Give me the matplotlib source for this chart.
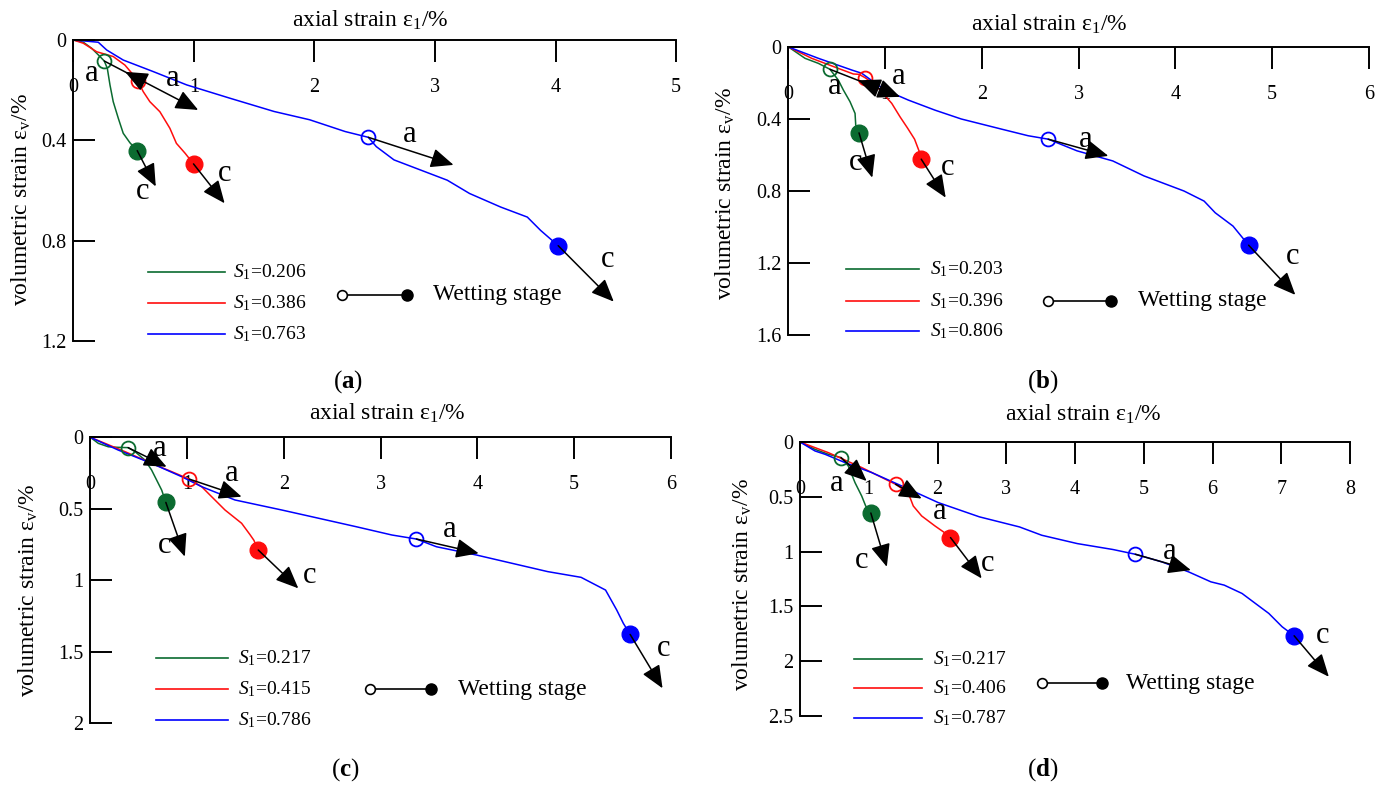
import matplotlib
matplotlib.use("Agg")
import matplotlib.pyplot as plt

plt.rcParams["font.family"] = ["Liberation Serif", "DejaVu Serif"]
plt.rcParams["mathtext.fontset"] = "custom"
plt.rcParams["mathtext.rm"] = "Liberation Serif"
plt.rcParams["mathtext.it"] = "Liberation Serif:italic"
plt.rcParams["mathtext.bf"] = "Liberation Serif:bold"

GREEN = "#0b6b30"
RED = "#ff0d0d"
BLUE = "#0000ff"
COLORS = [GREEN, RED, BLUE]

# ---------------- panel (a) ----------------
A_GREEN_X = [0, 0.083, 0.152, 0.221, 0.257, 0.282, 0.304, 0.331, 0.373, 0.414, 0.47, 0.53]
A_GREEN_Y = [0, 0.009, 0.033, 0.066, 0.084, 0.113, 0.179, 0.246, 0.312, 0.372, 0.41, 0.441]
A_RED_X = [0, 0.083, 0.194, 0.331, 0.428, 0.497, 0.534, 0.58, 0.635, 0.718, 0.801, 0.855, 0.928, 0.997]
A_RED_Y = [0, 0.013, 0.047, 0.066, 0.1, 0.139, 0.162, 0.206, 0.246, 0.286, 0.352, 0.412, 0.452, 0.494]
A_BLUE_X = [0, 0.207, 0.277, 0.414, 0.663, 0.94, 1.298, 1.665, 1.96, 2.255, 2.447, 2.513, 2.66,
            3.102, 3.287, 3.545, 3.766, 3.876, 4.022]
A_BLUE_Y = [0, 0.009, 0.04, 0.08, 0.126, 0.179, 0.232, 0.285, 0.318, 0.365, 0.388, 0.425, 0.478,
            0.559, 0.612, 0.666, 0.706, 0.759, 0.82]
A_S1 = ["0.206", "0.386", "0.763"]
A_WET_START_X = [0.257, 0.534, 2.447]
A_WET_START_Y = [0.084, 0.162, 0.388]
A_WET_END_X = [0.53, 0.997, 4.022]
A_WET_END_Y = [0.441, 0.494, 0.82]
A_XTICKS = [0, 1, 2, 3, 4, 5]
A_YTICKS = [0, 0.4, 0.8, 1.2]
A_YTICKLABELS = ["0", "0.4", "0.8", "1.2"]

# ---------------- panel (b) ----------------
B_GREEN_X = [0, 0.171, 0.309, 0.429, 0.515, 0.567, 0.636, 0.688, 0.695, 0.729]
B_GREEN_Y = [0, 0.063, 0.091, 0.124, 0.184, 0.239, 0.304, 0.369, 0.434, 0.477]
B_RED_X = [0, 0.24, 0.515, 0.67, 0.729, 0.79, 0.843, 0.894, 0.946, 1.067, 1.153, 1.23, 1.303, 1.349, 1.372]
B_RED_Y = [0, 0.063, 0.119, 0.15, 0.152, 0.17, 0.19, 0.212, 0.239, 0.313, 0.388, 0.45, 0.512, 0.577, 0.623]
B_BLUE_X = [0, 0.309, 0.654, 0.757, 0.877, 0.998, 1.239, 1.515, 1.786, 2.2, 2.477, 2.684, 2.983,
            3.352, 3.674, 3.812, 4.088, 4.296, 4.411, 4.595, 4.756]
B_BLUE_Y = [0, 0.063, 0.128, 0.146, 0.193, 0.239, 0.295, 0.351, 0.4, 0.456, 0.493, 0.512, 0.577,
            0.633, 0.716, 0.744, 0.8, 0.856, 0.921, 0.995, 1.101]
B_S1 = ["0.203", "0.396", "0.806"]
B_WET_START_X = [0.429, 0.79, 2.684]
B_WET_START_Y = [0.124, 0.17, 0.512]
B_WET_END_X = [0.729, 1.372, 4.756]
B_WET_END_Y = [0.477, 0.623, 1.101]
B_XTICKS = [0, 1, 2, 3, 4, 5, 6]
B_YTICKS = [0, 0.4, 0.8, 1.2, 1.6]
B_YTICKLABELS = ["0", "0.4", "0.8", "1.2", "1.6"]

# ---------------- panel (c) ----------------
C_GREEN_X = [0, 0.082, 0.185, 0.288, 0.39, 0.461, 0.564, 0.633, 0.685, 0.737, 0.78]
C_GREEN_Y = [0, 0.042, 0.066, 0.07, 0.072, 0.1, 0.159, 0.229, 0.299, 0.369, 0.455]
C_RED_X = [0, 0.151, 0.358, 0.633, 0.84, 1.022, 1.15, 1.219, 1.391, 1.563, 1.649, 1.69, 1.735]
C_RED_Y = [0, 0.042, 0.1, 0.182, 0.24, 0.292, 0.345, 0.392, 0.508, 0.601, 0.68, 0.72, 0.788]
C_BLUE_X = [0, 0.288, 0.633, 0.943, 1.15, 1.494, 1.977, 2.287, 2.747, 3.116, 3.369, 3.576, 3.99,
            4.358, 4.726, 5.071, 5.324, 5.439, 5.508, 5.578]
C_BLUE_Y = [0, 0.089, 0.182, 0.275, 0.345, 0.438, 0.508, 0.555, 0.625, 0.683, 0.711, 0.765, 0.823,
            0.881, 0.939, 0.979, 1.068, 1.207, 1.301, 1.378]
C_S1 = ["0.217", "0.415", "0.786"]
C_WET_START_X = [0.39, 1.022, 3.369]
C_WET_START_Y = [0.072, 0.292, 0.711]
C_WET_END_X = [0.78, 1.735, 5.578]
C_WET_END_Y = [0.455, 0.788, 1.378]
C_XTICKS = [0, 1, 2, 3, 4, 5, 6]
C_YTICKS = [0, 0.5, 1, 1.5, 2]
C_YTICKLABELS = ["0", "0.5", "1", "1.5", "2"]

# ---------------- panel (d) ----------------
D_GREEN_X = [0, 0.218, 0.411, 0.596, 0.702, 0.8, 0.897, 0.955, 1.03]
D_GREEN_Y = [0, 0.067, 0.112, 0.142, 0.219, 0.371, 0.493, 0.584, 0.648]
D_RED_X = [0, 0.411, 0.897, 1.39, 1.526, 1.599, 1.647, 1.769, 1.962, 2.108, 2.188]
D_RED_Y = [0, 0.097, 0.233, 0.386, 0.445, 0.506, 0.584, 0.675, 0.766, 0.83, 0.872]
D_BLUE_X = [0, 0.218, 0.363, 0.654, 1.042, 1.478, 2.01, 2.608, 3.191, 3.515, 4.032, 4.55, 4.874,
            5.262, 5.65, 5.974, 6.168, 6.427, 6.621, 6.816, 7.01, 7.184]
D_BLUE_Y = [0, 0.082, 0.112, 0.188, 0.279, 0.401, 0.553, 0.683, 0.775, 0.851, 0.927, 0.981, 1.024,
            1.094, 1.185, 1.276, 1.306, 1.382, 1.473, 1.564, 1.686, 1.768]
D_S1 = ["0.217", "0.406", "0.787"]
D_WET_START_X = [0.596, 1.39, 4.874]
D_WET_START_Y = [0.142, 0.386, 1.024]
D_WET_END_X = [1.03, 2.188, 7.184]
D_WET_END_Y = [0.648, 0.872, 1.768]
D_XTICKS = [0, 1, 2, 3, 4, 5, 6, 7, 8]
D_YTICKS = [0, 0.5, 1, 1.5, 2, 2.5]
D_YTICKLABELS = ["0", "0.5", "1", "1.5", "2", "2.5"]

# arrows (x0, y0, x1, y1) and letters (text, x, y), in data units
A_ARROWS = [(0.257, 0.084, 1.036, 0.279), (0.53, 0.152, 0.43, 0.127), (2.447, 0.388, 3.154, 0.498),
            (0.53, 0.441, 0.684, 0.584), (0.997, 0.494, 1.255, 0.651), (4.022, 0.82, 4.483, 1.043)]
A_LETTERS = [("a", 0.152, 0.133), ("a", 0.823, 0.153), ("a", 2.794, 0.378),
             ("c", 0.573, 0.604), ("c", 1.255, 0.531), ("c", 4.428, 0.876)]
B_ARROWS = [(0.429, 0.124, 1.153, 0.277), (0.82, 0.206, 0.72, 0.185), (2.684, 0.512, 3.306, 0.605),
            (0.729, 0.477, 0.866, 0.726), (1.372, 0.623, 1.625, 0.837), (4.756, 1.101, 5.239, 1.377)]
B_LETTERS = [("a", 0.48, 0.221), ("a", 1.136, 0.165), ("a", 3.075, 0.512),
             ("c", 0.691, 0.642), ("c", 1.648, 0.67), ("c", 5.216, 1.163)]
C_ARROWS = [(0.39, 0.072, 0.788, 0.206), (1.022, 0.292, 1.563, 0.415), (3.369, 0.711, 4.013, 0.811),
            (0.78, 0.455, 0.976, 0.834), (1.735, 0.788, 2.149, 1.056), (5.578, 1.378, 5.913, 1.755)]
C_LETTERS = [("a", 0.719, 0.077), ("a", 1.46, 0.252), ("a", 3.714, 0.648),
             ("c", 0.769, 0.753), ("c", 2.264, 0.963), ("c", 5.923, 1.476)]
D_ARROWS = [(0.596, 0.142, 0.969, 0.356), (1.39, 0.386, 1.769, 0.516), (4.874, 1.024, 5.683, 1.169),
            (1.03, 0.648, 1.262, 1.139), (2.188, 0.872, 2.641, 1.245), (7.184, 1.768, 7.689, 2.142)]
D_LETTERS = [("a", 0.533, 0.379), ("a", 2.03, 0.63), ("a", 5.372, 1.002),
             ("c", 0.893, 1.078), ("c", 2.725, 1.109), ("c", 7.592, 1.762)]


def draw_panel(ax, xs, ys, s1, wet_start, wet_end, xticks, yticks, yticklabels,
               arrows, letters, layout):
    for x, y, c in zip(xs, ys, COLORS):
        ax.plot(x, y, color=c, lw=1.1, zorder=2)
    for i, c in enumerate(COLORS):
        ax.plot(wet_start[0][i], wet_start[1][i], "o", mfc="none", mec=c, ms=10, mew=1.3, zorder=3)
        ax.plot(wet_end[0][i], wet_end[1][i], "o", color=c, ms=12, zorder=3)

    for x0, y0, x1, y1 in arrows:
        ax.annotate("", xy=(x1, y1), xytext=(x0, y0), zorder=5,
                    arrowprops=dict(arrowstyle="-|>,head_length=0.7,head_width=0.3",
                                    color="black", lw=1.1, shrinkA=0, shrinkB=0,
                                    mutation_scale=20))
    for t, x, y in letters:
        ax.text(x, y, t, fontsize=22, ha="center", va="center", zorder=6)

    ax.set_xlim(xticks[0], xticks[-1])
    ax.set_ylim(yticks[-1], yticks[0])
    ax.set_xticks(xticks)
    ax.set_xticklabels([str(v) for v in xticks])
    ax.set_yticks(yticks)
    ax.set_yticklabels(yticklabels)
    ax.xaxis.tick_top()
    ax.tick_params(axis="x", direction="in", length=16, width=1.4, pad=-41, labelsize=14.5)
    ax.tick_params(axis="y", direction="in", length=16, width=1.4, pad=5, labelsize=14.5)
    for side in ("bottom", "right"):
        ax.spines[side].set_visible(False)
    for side in ("top", "left"):
        ax.spines[side].set_linewidth(1.4)
    ax.patch.set_alpha(0)

    ax.text(layout["title"][0], layout["title"][1], "axial strain ε$_\\mathrm{1}$/%",
            transform=ax.transAxes, ha="center", va="center", fontsize=17)
    ax.set_ylabel("volumetric strain ε$_\\mathrm{v}$/%", fontsize=17)
    ax.yaxis.set_label_coords(*layout["ylabel"])

    # legend keys
    lx0, lx1, tx = layout["leg_x"]
    for label, c, ly in zip(s1, COLORS, layout["leg_y"]):
        ax.plot([lx0, lx1], [ly, ly], color=c, lw=1.2, transform=ax.transAxes, clip_on=False)
        ax.text(tx, ly, "$S_\\mathrm{1}$=" + label, transform=ax.transAxes,
                ha="left", va="center", fontsize=14)
    ox, fx, wtx, wy = layout["wet"]
    ax.plot([ox, fx], [wy, wy], color="black", lw=1.2, transform=ax.transAxes, clip_on=False)
    ax.plot([ox], [wy], "o", mfc="white", mec="black", ms=7, mew=1.2,
            transform=ax.transAxes, clip_on=False, zorder=4)
    ax.plot([fx], [wy], "o", color="black", ms=8, transform=ax.transAxes, clip_on=False, zorder=4)
    ax.text(wtx, wy, "Wetting stage", transform=ax.transAxes, ha="left", va="center", fontsize=17)


fig = plt.figure(figsize=(13.86, 7.87), dpi=100)

panels = [
    ("a", [0.0529, 0.5667, 0.4349, 0.3825],
     [A_GREEN_X, A_RED_X, A_BLUE_X], [A_GREEN_Y, A_RED_Y, A_BLUE_Y], A_S1,
     (A_WET_START_X, A_WET_START_Y), (A_WET_END_X, A_WET_END_Y),
     A_XTICKS, A_YTICKS, A_YTICKLABELS, A_ARROWS, A_LETTERS,
     dict(title=(0.492, 1.066), ylabel=(-0.067, 0.47), leg_x=(0.124, 0.252, 0.265),
          leg_y=(0.23, 0.126, 0.023), wet=(0.445, 0.553, 0.597, 0.153)),
     (0.251, 0.515)),
    ("b", [0.5689, 0.5743, 0.4188, 0.366],
     [B_GREEN_X, B_RED_X, B_BLUE_X], [B_GREEN_Y, B_RED_Y, B_BLUE_Y], B_S1,
     (B_WET_START_X, B_WET_START_Y), (B_WET_END_X, B_WET_END_Y),
     B_XTICKS, B_YTICKS, B_YTICKLABELS, B_ARROWS, B_LETTERS,
     dict(title=(0.45, 1.08), ylabel=(-0.089, 0.49), leg_x=(0.099, 0.225, 0.244),
          leg_y=(0.229, 0.119, 0.014), wet=(0.447, 0.556, 0.602, 0.119)),
     (0.752, 0.515)),
    ("c", [0.0652, 0.0809, 0.4189, 0.3634],
     [C_GREEN_X, C_RED_X, C_BLUE_X], [C_GREEN_Y, C_RED_Y, C_BLUE_Y], C_S1,
     (C_WET_START_X, C_WET_START_Y), (C_WET_END_X, C_WET_END_Y),
     C_XTICKS, C_YTICKS, C_YTICKLABELS, C_ARROWS, C_LETTERS,
     dict(title=(0.511, 1.085), ylabel=(-0.087, 0.466), leg_x=(0.113, 0.237, 0.254),
          leg_y=(0.227, 0.119, 0.012), wet=(0.481, 0.587, 0.634, 0.119)),
     (0.249, 0.022)),
    ("d", [0.5772, 0.0902, 0.397, 0.3482],
     [D_GREEN_X, D_RED_X, D_BLUE_X], [D_GREEN_Y, D_RED_Y, D_BLUE_Y], D_S1,
     (D_WET_START_X, D_WET_START_Y), (D_WET_END_X, D_WET_END_Y),
     D_XTICKS, D_YTICKS, D_YTICKLABELS, D_ARROWS, D_LETTERS,
     dict(title=(0.514, 1.099), ylabel=(-0.083, 0.48), leg_x=(0.099, 0.222, 0.241),
          leg_y=(0.207, 0.101, -0.008), wet=(0.439, 0.548, 0.593, 0.119)),
     (0.752, 0.022)),
]

for tag, rect, xs, ys, s1, ws, we, xt, yt, ytl, arrows, letters, layout, lab_pos in panels:
    ax = fig.add_axes(rect)
    draw_panel(ax, xs, ys, s1, ws, we, xt, yt, ytl, arrows, letters, layout)
    fig.text(lab_pos[0], lab_pos[1], "($\\mathbf{%s}$)" % tag, ha="center", va="center", fontsize=18)

fig.savefig("out.png", dpi=100)
